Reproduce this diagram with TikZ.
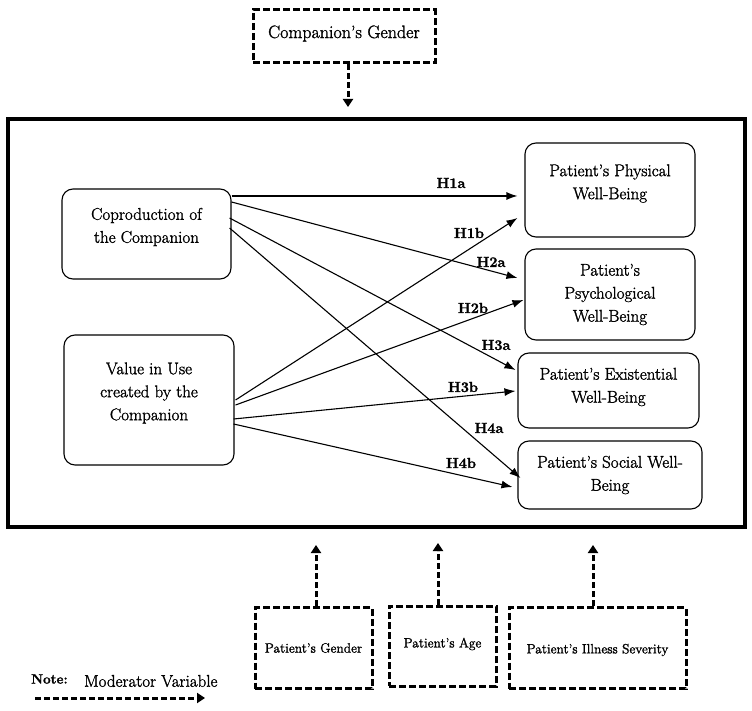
\documentclass[tikz,border=0pt]{standalone}
\usepackage{fontspec}
\setmainfont{Latin Modern Roman}[RawFeature={embolden=1.5}]
\usetikzlibrary{calc,arrows.meta}
\begin{document}
\begin{tikzpicture}[x=1pt,y=-1pt,
  var/.style={draw, rounded corners=11pt, line width=1.1pt, inner sep=0pt},
  vtext/.style={align=center, font=\fontsize{17}{23}\selectfont, inner sep=0pt},
  modbox/.style={draw, line width=3pt, dash pattern=on 7pt off 3pt, inner sep=0pt},
  mtext/.style={align=center, font=\fontsize{13.5}{16}\selectfont, inner sep=0pt},
  hyp/.style={-{Latex[length=11pt,width=8pt]}, line width=1.1pt},
  modarrow/.style={-{Triangle[length=8pt,width=10pt]}, line width=3pt, dash pattern=on 6pt off 3pt},
  hlab/.style={font=\fontsize{14.5}{16}\selectfont\bfseries, inner sep=0pt}
]
\useasboundingbox (0,0) rectangle (752,711);

% outer frame
\node[draw, line width=3.2pt, minimum width=737pt, minimum height=408pt, inner sep=0pt] (frame) at (376.5,323) {};

% moderator on top
\node[modbox, minimum width=182pt, minimum height=53pt,
  label={[mtext, font=\fontsize{18}{21}\selectfont, yshift=3pt]center:Companion's Gender}] (cg) at (344,36.5) {};
\coordinate (cgtip) at (348,107);
\draw[modarrow] (cgtip |- cg.south) -- (cgtip);

% independent variables
\node[var, minimum width=169pt, minimum height=90pt,
  label={[vtext, yshift=7pt]center:{Coproduction of\\the Companion}}] (cop) at (146.5,234) {};
\node[var, minimum width=170pt, minimum height=130pt,
  label={[vtext, yshift=7pt]center:{Value in Use\\created by the\\Companion}}] (val) at (149,400) {};

% dependent variables
\node[var, minimum width=170pt, minimum height=94pt,
  label={[vtext, yshift=6.5pt]center:{Patient's Physical\\Well-Being}}] (phys) at (610,190) {};
\node[var, minimum width=170pt, minimum height=91pt,
  label={[vtext]center:{Patient's\\Psychological\\Well-Being}}] (psy) at (610,294.5) {};
\node[var, minimum width=181pt, minimum height=75pt,
  label={[vtext, yshift=3.5pt]center:{Patient's Existential\\Well-Being}}] (exi) at (608.5,390.5) {};
\node[var, minimum width=184pt, minimum height=68pt,
  label={[vtext]center:{Patient's Social Well-\\Being}}] (soc) at (610,475) {};

% hypotheses arrows
\draw[hyp] ($(cop.east)+(0,-38)$) -- ($(phys.west)+(-7,6)$);
\draw[hyp] ($(cop.east)+(0,-32)$) -- ($(psy.west)+(-7,-16.5)$);
\draw[hyp] ($(cop.east)+(-2,-16)$) -- ($(exi.west)+(-2,-20.5)$);
\draw[hyp] ($(cop.east)+(-2,-6)$) -- ($(soc.west)+(3,3)$);

\draw[hyp] ($(val.east)+(1,0)$) -- ($(phys.west)+(-7,28)$);
\draw[hyp] ($(val.east)+(1,5)$) -- ($(psy.west)+(-1,5.5)$);
\draw[hyp] ($(val.east)+(-1,19)$) -- ($(exi.west)+(-2,0.5)$);
\draw[hyp] ($(val.east)+(-1,24)$) -- ($(soc.west)+(-5,12)$);

% hypothesis labels
\node[hlab] (h1a) at (451,183) {H1a};
\node[hlab] (h1b) at (469,233) {H1b};
\node[hlab] (h2a) at (491,262) {H2a};
\node[hlab] (h2b) at (473,308) {H2b};
\node[hlab] (h3a) at (496,345) {H3a};
\node[hlab] (h3b) at (463,387) {H3b};
\node[hlab] (h4a) at (489,428) {H4a};
\node[hlab] (h4b) at (461,463) {H4b};

% moderators below
\node[modbox, minimum width=117pt, minimum height=81pt,
  label={[mtext]center:Patient's Gender}] (pg) at (313.5,648) {};
\node[modbox, minimum width=107pt, minimum height=80pt,
  label={[mtext, yshift=2pt]center:Patient's Age}] (pa) at (442.5,646) {};
\node[modbox, minimum width=177pt, minimum height=81pt,
  label={[mtext, yshift=-2pt]center:Patient's Illness Severity}] (ps) at (597.5,648) {};

\coordinate (pgtip) at (316,545);
\coordinate (patip) at (438,543);
\coordinate (pstip) at (593,545);
\draw[modarrow] (pgtip |- pg.north) -- (pgtip);
\draw[modarrow] (patip |- pa.north) -- (patip);
\draw[modarrow] (pstip |- ps.north) -- (pstip);

% note
\node[font=\fontsize{13.5}{16}\selectfont\bfseries, anchor=west, inner sep=0pt] (note) at (31,679) {Note:};
\node[font=\fontsize{17}{20}\selectfont, anchor=west, inner sep=0pt] (modvar) at (84,681) {Moderator Variable};
\coordinate (n1) at (35,698);
\coordinate (n2) at (205,698);
\draw[modarrow] (n1) -- (n2);
\end{tikzpicture}
\end{document}
